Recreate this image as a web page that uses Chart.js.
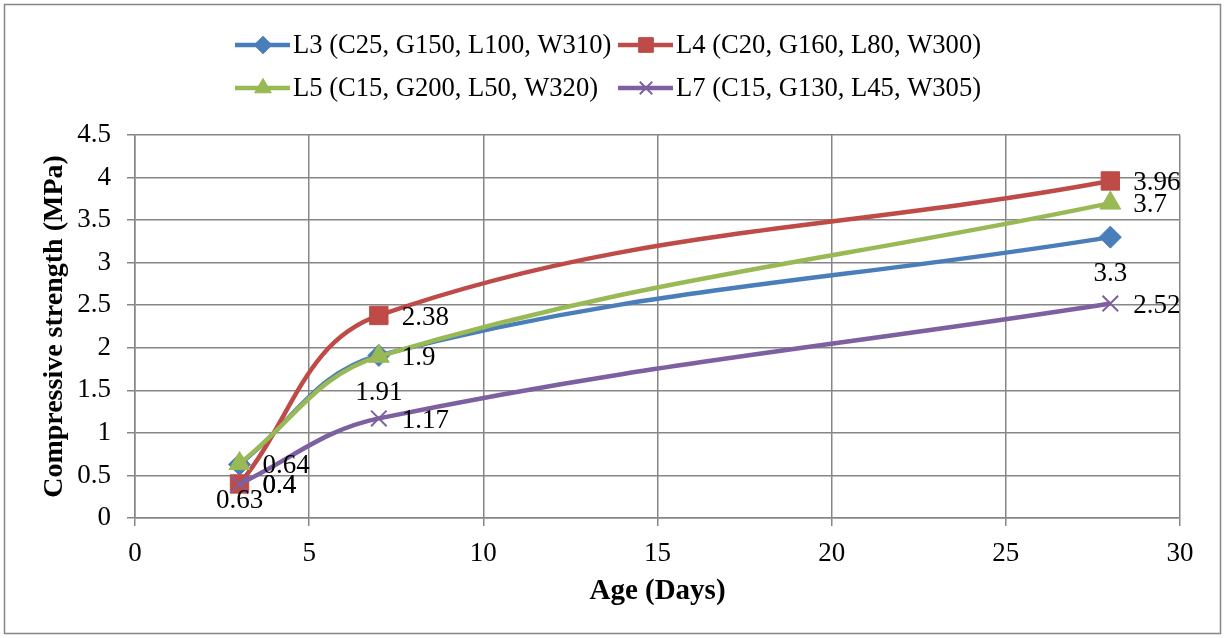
<!DOCTYPE html>
<html>
<head>
<meta charset="utf-8">
<script src="https://cdn.jsdelivr.net/npm/chart.js@4.4.0/dist/chart.umd.min.js"></script>
<style>
html,body{margin:0;padding:0;background:#fff;}
#wrap{width:1225px;height:638px;position:relative;}
</style>
</head>
<body>
<div id="wrap"><canvas id="c" width="1225" height="638"></canvas></div>
<script>
const ages = [3, 7, 28];
const seriesNames = ["L3 (C25, G150, L100, W310)", "L4 (C20, G160, L80, W300)", "L5 (C15, G200, L50, W320)", "L7 (C15, G130, L45, W305)"];
const L3 = [0.63, 1.91, 3.3];
const L4 = [0.4, 2.38, 3.96];
const L5 = [0.64, 1.9, 3.7];
const L7 = [0.4, 1.17, 2.52];
const yTicks = [0, 0.5, 1, 1.5, 2, 2.5, 3, 3.5, 4, 4.5];
const xTicks = [0, 5, 10, 15, 20, 25, 30];

const FONT = "'Liberation Serif', 'Times New Roman', serif";
const colors = ['#4A7EBB', '#BE4B48', '#98B954', '#7D60A0'];
const styles = [
  {pointStyle:'rectRot', radius:11, labelPos:'below'},
  {pointStyle:'rect', radius:13, labelPos:'right'},
  {pointStyle:'triangle', radius:12, labelPos:'right'},
  {pointStyle:'crossRot', radius:11, labelPos:'right'}
];
const values = [L3, L4, L5, L7];

const datasets = values.map((v, i) => ({
  label: seriesNames[i],
  data: ages.map((a, j) => ({x: a, y: v[j]})),
  borderColor: colors[i],
  backgroundColor: colors[i],
  pointBackgroundColor: colors[i],
  pointBorderColor: colors[i],
  borderWidth: 4.5,
  pointStyle: styles[i].pointStyle,
  pointRadius: styles[i].radius,
  pointHoverRadius: styles[i].radius,
  pointBorderWidth: styles[i].pointStyle === 'crossRot' ? 2 : 1,
  tension: 0.38,
  fill: false,
  order: values.length - 1 - i,
  labelPos: styles[i].labelPos
}));

const frame = {
  id: 'frame',
  beforeDraw(chart) {
    const ctx = chart.ctx;
    ctx.save();
    ctx.fillStyle = '#fff';
    ctx.fillRect(0, 0, chart.width, chart.height);
    ctx.strokeStyle = '#868686';
    ctx.lineWidth = 1.5;
    ctx.strokeRect(4.5, 4.5, 1216, 629);
    ctx.restore();
  }
};

const legendPlugin = {
  id: 'customLegend',
  afterDraw(chart) {
    const ctx = chart.ctx;
    const pos = [[235, 45], [618, 45], [235, 88], [618, 88]];
    ctx.save();
    chart.data.datasets.forEach((ds, i) => {
      const [x0, y] = pos[i];
      ctx.strokeStyle = ds.borderColor;
      ctx.lineWidth = 4.5;
      ctx.beginPath();
      ctx.moveTo(x0, y);
      ctx.lineTo(x0 + 55, y);
      ctx.stroke();
      ctx.fillStyle = ds.borderColor;
      ctx.strokeStyle = ds.borderColor;
      ctx.lineWidth = ds.pointBorderWidth;
      Chart.helpers.drawPoint(ctx, {pointStyle: ds.pointStyle, radius: ds.pointRadius * 0.8, rotation: 0, borderWidth: ds.pointBorderWidth}, x0 + 28, y);
      ctx.fillStyle = '#000';
      ctx.font = '26.6px ' + FONT;
      ctx.textAlign = 'left';
      ctx.textBaseline = 'middle';
      ctx.fillText(ds.label, x0 + 58, y + 1);
    });
    ctx.restore();
  }
};

const labelPlugin = {
  id: 'valueLabels',
  afterDatasetsDraw(chart) {
    const ctx = chart.ctx;
    ctx.save();
    ctx.font = '27px ' + FONT;
    ctx.fillStyle = '#000';
    chart.data.datasets.forEach((ds, i) => {
      const meta = chart.getDatasetMeta(i);
      meta.data.forEach((pt, j) => {
        const txt = String(values[i][j]);
        if (ds.labelPos === 'below') {
          ctx.textAlign = 'center';
          ctx.textBaseline = 'middle';
          ctx.fillText(txt, pt.x, pt.y + 37);
        } else {
          ctx.textAlign = 'left';
          ctx.textBaseline = 'middle';
          ctx.fillText(txt, pt.x + 23, pt.y + 2);
        }
      });
    });
    ctx.restore();
  }
};

new Chart(document.getElementById('c'), {
  type: 'line',
  data: { datasets },
  options: {
    responsive: false,
    animation: false,
    devicePixelRatio: 1,
    layout: { padding: { left: 34, right: 45, top: 135, bottom: 25 } },
    plugins: { legend: { display: false }, tooltip: { enabled: false } },
    scales: {
      x: {
        type: 'linear', min: 0, max: 30,
        afterBuildTicks(s) { s.ticks = xTicks.map(v => ({value: v})); },
        afterFit(s) { s.height = 95; },
        ticks: { color: '#000', font: { family: FONT, size: 27 }, padding: 12, callback: v => String(v) },
        grid: { color: '#868686', lineWidth: 1.5, tickLength: 8, tickColor: '#868686' },
        border: { color: '#868686', width: 1.5 },
        title: { display: true, text: 'Age (Days)', color: '#000', font: { family: FONT, size: 29, weight: 'bold' }, padding: { top: 4, bottom: 4 } }
      },
      y: {
        type: 'linear', min: 0, max: 4.5,
        afterBuildTicks(s) { s.ticks = yTicks.map(v => ({value: v})); },
        afterFit(s) { s.width = 101; },
        ticks: { color: '#000', font: { family: FONT, size: 27 }, padding: 16, callback: v => String(v) },
        grid: { color: '#868686', lineWidth: 1.5, tickLength: 8, tickColor: '#868686' },
        border: { color: '#868686', width: 1.5 },
        title: { display: true, text: 'Compressive strength (MPa)', color: '#000', font: { family: FONT, size: 28, weight: 'bold' }, padding: { top: 4, bottom: 4 } }
      }
    }
  },
  plugins: [frame, legendPlugin, labelPlugin]
});
</script>
</body>
</html>
